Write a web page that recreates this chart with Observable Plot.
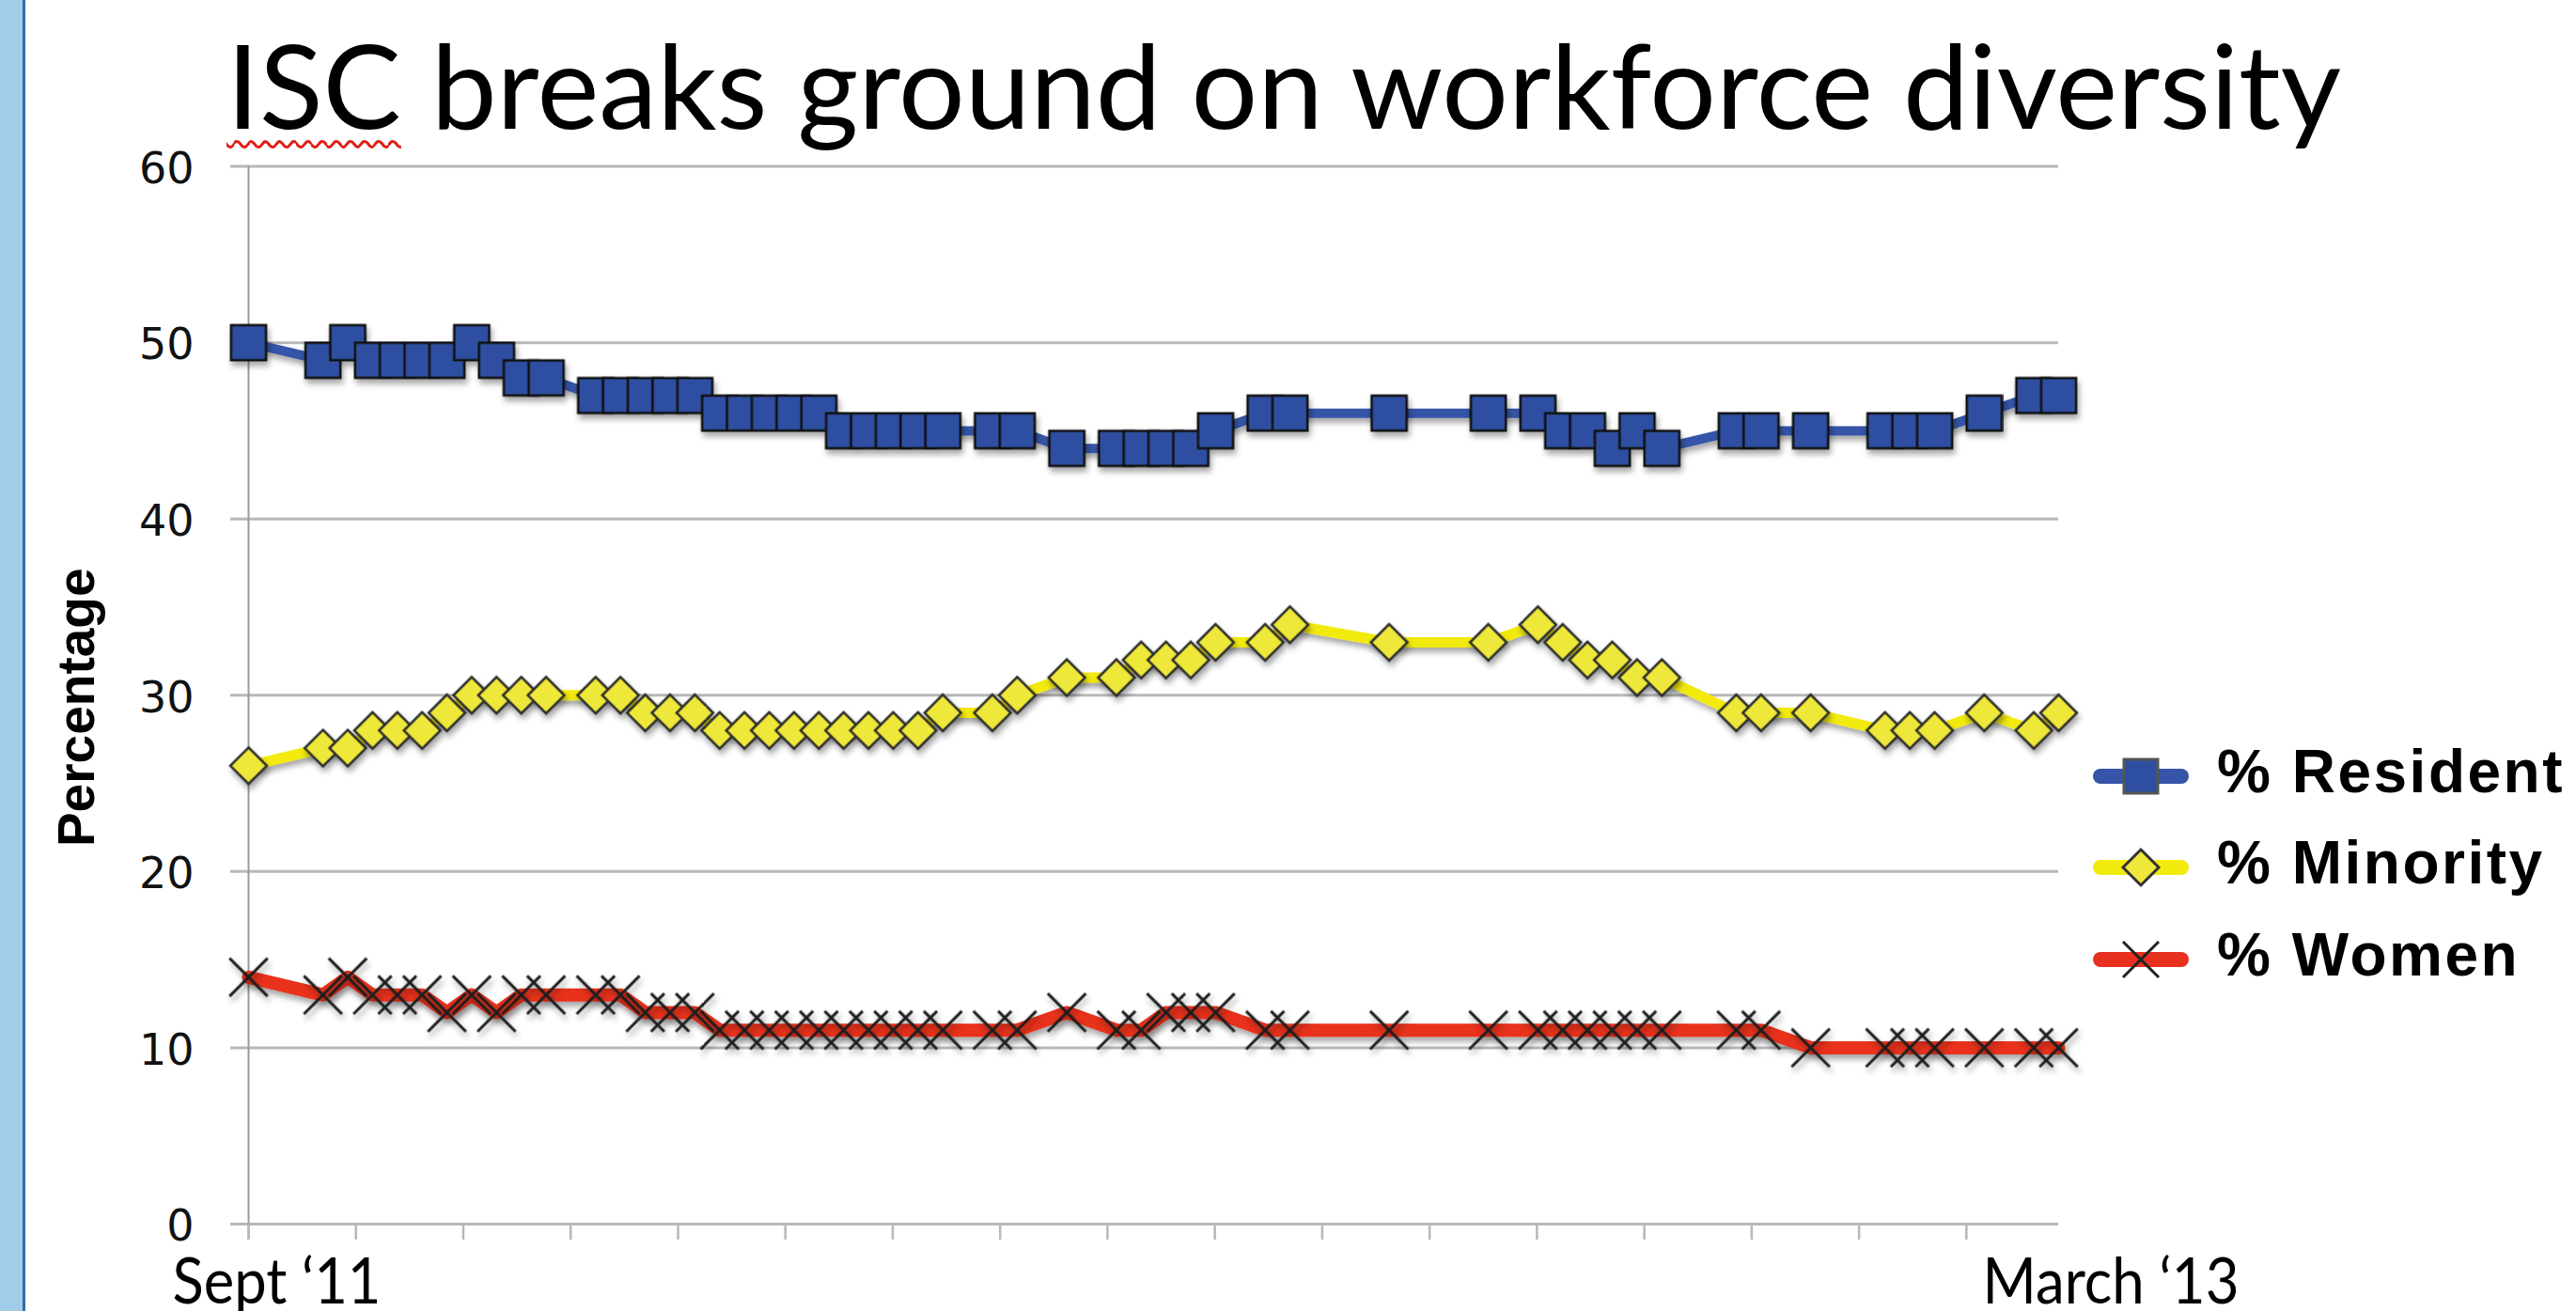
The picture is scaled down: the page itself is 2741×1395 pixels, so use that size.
<!DOCTYPE html>
<html>
<head>
<meta charset="utf-8">
<script src="https://cdn.jsdelivr.net/npm/d3@7"></script>
<script src="https://cdn.jsdelivr.net/npm/@observablehq/plot@0.6"></script>
<style>
  html, body { margin: 0; padding: 0; background: #fff; }
  body { width: 2741px; height: 1395px; position: relative; overflow: hidden; }
  #bar { position: absolute; left: 0; top: 0; width: 24px; height: 1395px; background: #a2cdea; border-right: 3px solid #2f6fac; }
  #title { position: absolute; left: 241px; top: 27px; margin: 0; font-family: Lato, "Open Sans", sans-serif; font-weight: 400; font-size: 124px; line-height: 1; white-space: nowrap; transform-origin: 0 0; color: #000; }
  #title .sp { text-decoration: underline wavy #e0201a; text-decoration-thickness: 3px; text-underline-offset: 12px; }
  #chart { position: absolute; left: 0; top: 150px; }
  #legend { position: absolute; left: 2222px; top: 777px; }
  #legend .row { display: flex; align-items: center; height: 97.5px; }
  #legend .lab { margin-left: 27px; font-family: "Liberation Sans", Arial, sans-serif; font-weight: 700; font-size: 64px; letter-spacing: 2.5px; line-height: 1; color: #000; position: relative; top: -5px; white-space: nowrap; }
</style>
</head>
<body>
<div id="bar"></div>
<div id="title"><span class="sp">ISC</span> breaks ground on workforce diversity</div>
<div id="chart"></div>
<div id="legend"></div>
<script>
// ---- data ----
const weeks    = [0,3,4,5,6,7,8,9,10,11,12,14,15,16,17,18,19,20,21,22,23,24,25,26,27,28,30,31,33,35,36,37,38,39,41,42,46,50,52,53,54,55,56,57,60,61,63,66,67,68,70,72,73];
const resident = [50,49,50,49,49,49,49,50,49,48,48,47,47,47,47,47,46,46,46,46,46,45,45,45,45,45,45,45,44,44,44,44,44,45,46,46,46,46,46,45,45,44,45,44,45,45,45,45,45,45,46,47,47];
const minority = [26,27,27,28,28,28,29,30,30,30,30,30,30,29,29,29,28,28,28,28,28,28,28,28,28,29,29,30,31,31,32,32,32,33,33,34,33,33,34,33,32,32,31,31,29,29,29,28,28,28,29,28,29];
const women    = [14,13,14,13,13,13,12,13,12,13,13,13,13,12,12,12,11,11,11,11,11,11,11,11,11,11,11,11,12,11,11,12,12,12,11,11,11,11,11,11,11,11,11,11,11,11,10,10,10,10,10,10,10];
const seriesNames = ["% Resident", "% Minority", "% Women"];
const yTicks = [0, 10, 20, 30, 40, 50, 60];
const xLabels = ["Sept \u201811", "March \u201813"];
const yLabel = "Percentage";

// ---- tables built from the arrays ----
const toRows = vals => weeks.map((w, i) => ({week: w, value: vals[i]}));
const R = toRows(resident), M = toRows(minority), W = toRows(women);
const monthTicks = d3.range(0, 70, 4.33);
const labelRows = [{week: weeks[0], text: xLabels[0]}, {week: weeks[weeks.length - 1], text: xLabels[1]}];

const blueLine = "#3654a8", blueFill = "#2e4fa1";
const yellowLine = "#f3ea0e", yellowFill = "#eee83a";
const redLine = "#e8301f";

const chart = Plot.plot({
  width: 2741,
  height: 1245,
  marginTop: 26.6,
  marginRight: 551,
  marginBottom: 93,
  marginLeft: 264,
  x: {domain: [0, 73], axis: null},
  y: {domain: [0, 60], axis: null},
  style: {background: "transparent", overflow: "visible"},
  marks: [
    Plot.ruleY(yTicks, {stroke: "#b8b8b8", strokeWidth: 3, insetLeft: -19}),
    Plot.ruleX([0], {stroke: "#9a9a9a", strokeWidth: 2, insetBottom: -17}),
    Plot.ruleX(monthTicks, {y1: 0, y2: 0, insetBottom: -17, stroke: "#b8b8b8", strokeWidth: 2.5}),
    Plot.text(yTicks, {y: d => d, text: d => String(d), frameAnchor: "left", textAnchor: "end", dx: -58, dy: 3, fontSize: 46, fontFamily: "DejaVu Sans", fill: "#111"}),
    Plot.text([yLabel], {frameAnchor: "left", textAnchor: "middle", rotate: -90, dx: -182, dy: 13, fontSize: 55, fontWeight: "bold", fontFamily: "Liberation Sans, Arial, sans-serif", fill: "#000"}),
    Plot.text(labelRows, {x: "week", text: "text", frameAnchor: "bottom", textAnchor: "start", dx: -81, dy: 84, fontSize: 68, fontFamily: "Lato, Open Sans, sans-serif", fill: "#000"}),

    Plot.line(R, {x: "week", y: "value", stroke: blueLine, strokeWidth: 10}),
    Plot.dot(R, {x: "week", y: "value", symbol: "square", r: 21, fill: blueFill, stroke: "#111", strokeWidth: 2.5}),

    Plot.line(M, {x: "week", y: "value", stroke: yellowLine, strokeWidth: 11}),
    Plot.dot(M, {x: "week", y: "value", symbol: "diamond2", r: 17.5, fill: yellowFill, stroke: "#2a2a2a", strokeWidth: 2.5}),

    Plot.line(W, {x: "week", y: "value", stroke: redLine, strokeWidth: 14}),
    Plot.dot(W, {x: "week", y: "value", symbol: "times", r: 18.5, fill: "none", stroke: "#1e1e1e", strokeWidth: 3})
  ]
});
document.getElementById("chart").appendChild(chart);

// soft drop shadow like the original spreadsheet chart
const svg = d3.select(chart);
const defs = svg.insert("defs", ":first-child");
const f = defs.append("filter").attr("id", "sh").attr("x", "-10%").attr("y", "-30%").attr("width", "120%").attr("height", "160%");
f.append("feDropShadow").attr("dx", 2).attr("dy", 5).attr("stdDeviation", 3).attr("flood-color", "#000").attr("flood-opacity", 0.35);
svg.selectAll('g[aria-label="dot"], g[aria-label="line"]').attr("filter", "url(#sh)");

// fit x label widths to the reference layout
const fitWidths = new Map([[xLabels[0], 222], [xLabels[1], 273]]);
svg.selectAll("text").each(function() {
  const w = fitWidths.get(this.textContent);
  if (w) { this.setAttribute("textLength", w); this.setAttribute("lengthAdjust", "spacingAndGlyphs"); }
});

// legend
const legendSpec = [
  {name: seriesNames[0], line: blueLine, symbol: d3.symbolSquare, size: 1296, fill: blueFill, stroke: "#555"},
  {name: seriesNames[1], line: yellowLine, symbol: d3.symbolDiamond2, size: 920, fill: yellowFill, stroke: "#333"},
  {name: seriesNames[2], line: redLine, symbol: d3.symbolTimes, size: 944, fill: "none", stroke: "#222"}
];
const legend = d3.select("#legend");
legendSpec.forEach(s => {
  const row = legend.append("div").attr("class", "row");
  const sw = row.append("svg").attr("width", 110).attr("height", 60);
  sw.append("line").attr("x1", 13).attr("x2", 99).attr("y1", 30).attr("y2", 30)
    .attr("stroke", s.line).attr("stroke-width", 16).attr("stroke-linecap", "round");
  sw.append("path").attr("d", d3.symbol(s.symbol, s.size)()).attr("transform", "translate(56,30)")
    .attr("fill", s.fill).attr("stroke", s.stroke).attr("stroke-width", 3);
  row.append("div").attr("class", "lab").text(s.name);
});

// title width fit
function fitTitle() {
  const t = document.getElementById("title");
  t.style.transform = "none";
  const w = t.getBoundingClientRect().width;
  t.style.transform = "scaleX(" + (2250 / w) + ")";
}
fitTitle();
if (document.fonts && document.fonts.ready) document.fonts.ready.then(fitTitle);
</script>
</body>
</html>
